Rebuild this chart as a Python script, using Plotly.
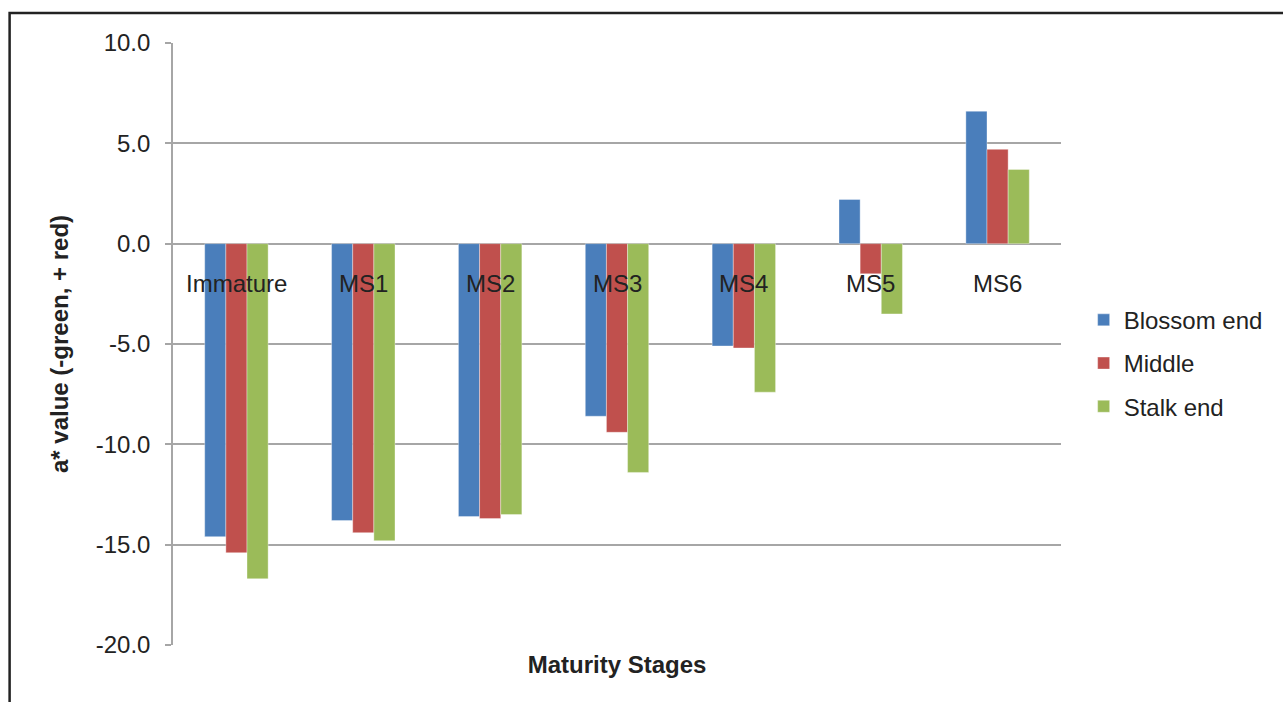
import plotly.graph_objects as go

# a* colour readings per maturity stage and fruit region
stages = ["Immature", "MS1", "MS2", "MS3", "MS4", "MS5", "MS6"]
blossom_end = [-14.6, -13.8, -13.6, -8.6, -5.1, 2.2, 6.6]
middle = [-15.4, -14.4, -13.7, -9.4, -5.2, -1.5, 4.7]
stalk_end = [-16.7, -14.8, -13.5, -11.4, -7.4, -3.5, 3.7]

y_ticks = [-20, -15, -10, -5, 0, 5, 10]
y_tick_labels = ["-20.0", "-15.0", "-10.0", "-5.0", "0.0", "5.0", "10.0"]

series = [
    ("Blossom end", blossom_end, "#4A7EBB"),
    ("Middle", middle, "#C0504D"),
    ("Stalk end", stalk_end, "#9BBB59"),
]

font_family = "Liberation Sans, Arial, sans-serif"
text_col = "#222222"
grid_col = "#A6A6A6"

fig = go.Figure()
for i, (name, vals, col) in enumerate(series):
    fig.add_trace(go.Bar(
        x=stages, y=vals, name=name,
        marker=dict(color=col, line=dict(color="rgba(255,255,255,0.6)", width=0.6)),
        legendgroup=f"g{i}",
    ))

# stage names sit just below the zero line
for s in stages:
    fig.add_annotation(
        x=s, y=0, xref="x", yref="y", text=s, showarrow=False,
        yshift=-40, font=dict(family=font_family, size=24, color=text_col),
    )

# outer frame of the figure
fig.add_shape(
    type="rect", xref="paper", yref="paper",
    x0=-0.184, x1=1.3, y0=-0.2, y1=1.0498,
    line=dict(color=text_col, width=2.5), fillcolor="rgba(0,0,0,0)",
)

fig.update_layout(
    width=1283, height=702,
    margin=dict(l=173, r=222, t=43, b=57),
    paper_bgcolor="white", plot_bgcolor="white",
    barmode="group", bargap=0.5, bargroupgap=0,
    font=dict(family=font_family, color=text_col),
    showlegend=True,
    legend=dict(
        x=1.0255, y=0.468, xanchor="left", yanchor="middle",
        font=dict(family=font_family, size=24, color=text_col),
        tracegroupgap=9, bgcolor="rgba(0,0,0,0)",
    ),
    xaxis=dict(
        showticklabels=False, showgrid=False, zeroline=False,
        showline=False, ticks="",
        title=dict(text="<b>Maturity Stages</b>", standoff=11,
                   font=dict(family=font_family, size=24, color=text_col)),
    ),
    yaxis=dict(
        range=[-20, 10], tickvals=y_ticks, ticktext=y_tick_labels,
        showgrid=True, gridcolor=grid_col, gridwidth=1.6,
        zeroline=True, zerolinecolor=grid_col, zerolinewidth=1.6,
        showline=True, linecolor=grid_col, linewidth=1.6,
        ticks="outside", ticklen=6, tickcolor=grid_col, tickwidth=1.6,
        ticklabelstandoff=10,
        tickfont=dict(family=font_family, size=24, color=text_col),
        title=dict(text="<b>a* value (-green, + red)</b>", standoff=20,
                   font=dict(family=font_family, size=24, color=text_col)),
    ),
)

fig.write_html("out.html")
